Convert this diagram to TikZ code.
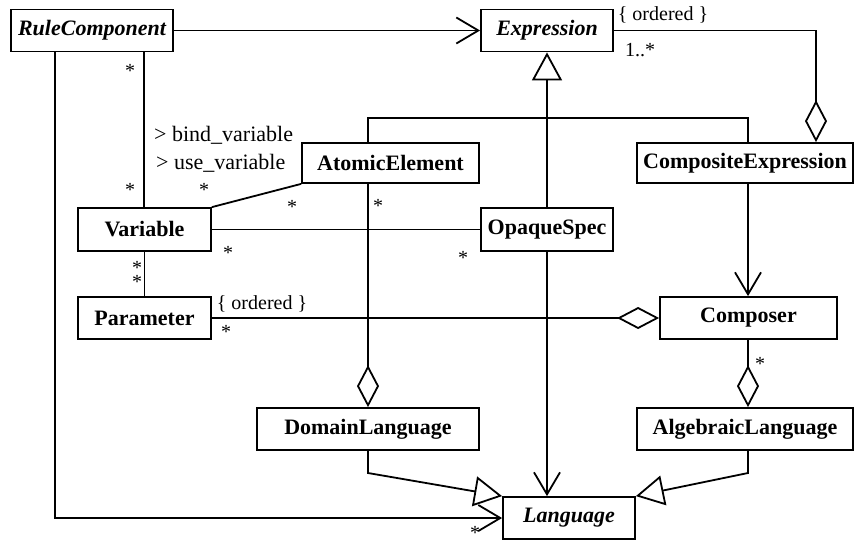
\documentclass[tikz,border=0pt]{standalone}
\usepackage{fontspec}
\setmainfont{Liberation Serif}
\usetikzlibrary{arrows.meta}
\begin{document}
\begin{tikzpicture}[x=1pt,y=-1pt,
  cls/.style={draw, line width=1.8pt, inner sep=0pt, font=\fontsize{22}{26}\selectfont\bfseries},
  abstractcls/.style={cls, font=\fontsize{22}{26}\selectfont\bfseries\itshape},
  conn/.style={line width=1.8pt},
  lbl/.style={inner sep=0pt, font=\fontsize{20}{24}\selectfont},
  rolelbl/.style={inner sep=0pt, anchor=west, font=\fontsize{22}{26}\selectfont},
  nav/.style={-{Straight Barb[length=22pt,width=26pt]}},
  gen/.style={-{Triangle[open,length=28pt,width=30pt,fill=white]}},
  agg/.style={{Diamond[open,length=42pt,width=22pt,fill=white]}-}
]
\useasboundingbox (0,0) rectangle (854,542);

% classes
\node[abstractcls, minimum width=162pt, minimum height=42pt] (rc)    at (92,30.5)   {RuleComponent};
\node[abstractcls, minimum width=132pt, minimum height=42pt] (expr)  at (547,30.5)  {Expression};
\node[cls, minimum width=177pt, minimum height=40pt] (atom)  at (390.5,163) {AtomicElement};
\node[cls, minimum width=216pt, minimum height=40pt] (comp)  at (745,163)   {CompositeExpression};
\node[cls, minimum width=133pt, minimum height=43pt] (var)   at (144.5,229.5) {Variable};
\node[cls, minimum width=132pt, minimum height=43pt] (opq)   at (547,229.5) {OpaqueSpec};
\node[cls, minimum width=133pt, minimum height=42pt] (param) at (144.5,318) {Parameter};
\node[cls, minimum width=177pt, minimum height=42pt] (cmp)   at (748.5,318) {Composer};
\node[cls, minimum width=222pt, minimum height=42pt] (dom)   at (368,429)   {DomainLanguage};
\node[cls, minimum width=216pt, minimum height=42pt] (alg)   at (745,429)   {AlgebraicLanguage};
\node[abstractcls, minimum width=132pt, minimum height=42pt] (lang) at (569,518) {Language};

% routing guides
\coordinate (gA) at (816,0);
\coordinate (gB) at (748,0);
\coordinate (gC) at (368,0);
\coordinate (gD) at (144,0);
\coordinate (gE) at (55,0);
\coordinate (hJ) at (0,118);
\coordinate (hK) at (0,473);

% associations and aggregations
\draw[conn,nav] (rc) -- (expr);
\draw[conn,agg] (comp.north -| gA) |- (expr.east);
\draw[conn,nav] (comp.south -| gB) -- (cmp.north -| gB);
\draw[conn,agg] (cmp.west) -- (param.east);
\draw[conn,agg] (alg.north -| gB) -- (cmp.south -| gB);
\draw[conn,agg] (dom.north -| gC) -- (atom.south -| gC);
\draw[conn] (var.north east) -- (atom.south west);
\draw[conn] (var.east) -- (opq.west);
\draw[conn] (rc.south -| gD) -- (var.north -| gD);
\draw[conn] (var) -- (param);
\draw[conn,nav] (rc.south -| gE) |- (lang.west);
\draw[conn,nav] (opq.south) -- (opq.south |- lang.north);

% generalizations
\draw[conn] (atom.north -| gC) |- (hJ -| gB) -- (comp.north -| gB);
\draw[conn,gen] (opq.north) -- (expr.south);
\draw[conn,gen] (dom.south -| gC) -- (hK -| gC) -- (lang.north west);
\draw[conn,gen] (alg.south -| gB) -- (hK -| gB) -- (lang.north east);

% multiplicities, constraints and roles
\node[lbl] (o1) at (663,15) {\{ ordered \}};
\node[lbl] (m1) at (640,50) {1..*};
\node[lbl] (m2) at (130,71) {*};
\node[lbl] (m3) at (130,190) {*};
\node[rolelbl] (r1) at (154,135) {> bind\_variable};
\node[rolelbl] (r2) at (156,163) {> use\_variable};
\node[lbl] (m4) at (204,190) {*};
\node[lbl] (m5) at (292,207) {*};
\node[lbl] (m6) at (378,206) {*};
\node[lbl] (m7) at (228,253) {*};
\node[lbl] (m8) at (463,258) {*};
\node[lbl, align=center, font=\fontsize{20}{11}\selectfont] (m9) at (137,275) {*\\*};
\node[lbl] (o2) at (262,304) {\{ ordered \}};
\node[lbl] (m11) at (226,332) {*};
\node[lbl] (m12) at (760,364) {*};
\node[lbl] (m13) at (475,533) {*};
\end{tikzpicture}
\end{document}
